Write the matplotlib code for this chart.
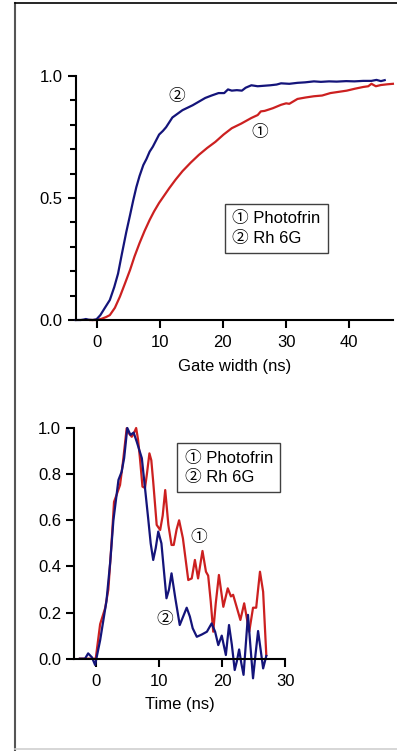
import matplotlib
matplotlib.use('Agg')
import matplotlib.pyplot as plt
from matplotlib.lines import Line2D
from matplotlib.ticker import MultipleLocator, FormatStrFormatter


plt.rcParams['font.family'] = ['Liberation Sans', 'Noto Sans CJK JP', 'DejaVu Sans']
plt.rcParams['font.size'] = 12

BLUE = '#14147a'
RED = '#cc2020'

# top panel: normalised integrated signal vs gate width
gate_rh6g = [-3.3, -2.5, -2.0, -1.7, -1.2, -0.6, 0, 0.6, 1.2, 2.1, 2.8, 3.4, 4.0, 4.7,
             5.3, 5.8, 6.3, 6.8, 7.4, 7.9, 8.4, 8.9, 9.4, 9.9, 10.5, 11.0, 11.5, 12.0,
             12.8, 13.6, 14.4, 15.2, 16.2, 17.2, 18.2, 19.3, 20.2, 20.8, 21.4, 22.2,
             23.0, 23.6, 24.5, 25.5, 26.5, 27.5, 28.5, 29.2, 30.5, 31.8, 33.0, 34.4,
             35.5, 36.8, 38.0, 39.5, 40.8, 42.2, 43.5, 44.3, 45.0, 45.6]
sig_rh6g = [0, 0, 0.002, 0.004, 0.001, 0, 0.003, 0.02, 0.045, 0.082, 0.135, 0.19, 0.27,
            0.36, 0.43, 0.49, 0.545, 0.59, 0.635, 0.66, 0.69, 0.71, 0.735, 0.76, 0.775,
            0.79, 0.81, 0.83, 0.845, 0.86, 0.87, 0.88, 0.895, 0.91, 0.92, 0.93, 0.93,
            0.945, 0.94, 0.942, 0.94, 0.952, 0.962, 0.958, 0.96, 0.962, 0.965, 0.97,
            0.968, 0.972, 0.974, 0.978, 0.976, 0.978, 0.977, 0.979, 0.978, 0.98, 0.98,
            0.984, 0.979, 0.983]

gate_photofrin = [-1.0, 0, 0.8, 1.5, 2.1, 2.9, 3.7, 4.5, 5.3, 6.0, 6.8, 7.6, 8.4, 9.1,
                  9.9, 10.7, 11.5, 12.5, 13.6, 14.9, 16.2, 17.5, 18.8, 20.1, 21.4, 22.9,
                  24.5, 25.5, 26.0, 26.6, 27.9, 29.2, 30.0, 30.5, 31.8, 33.1, 34.4, 35.7,
                  37.0, 38.3, 39.6, 40.9, 42.2, 43.0, 43.5, 44.2, 45.0, 46.0, 46.9]
sig_photofrin = [0, 0, 0.005, 0.012, 0.02, 0.05, 0.096, 0.15, 0.205, 0.26, 0.315, 0.365,
                 0.41, 0.445, 0.48, 0.51, 0.54, 0.575, 0.61, 0.645, 0.677, 0.705, 0.73,
                 0.76, 0.786, 0.805, 0.828, 0.84, 0.855, 0.857, 0.868, 0.882, 0.888,
                 0.886, 0.906, 0.912, 0.917, 0.92, 0.93, 0.935, 0.94, 0.948, 0.955, 0.958,
                 0.968, 0.958, 0.963, 0.966, 0.968]

# bottom panel: time-resolved fluorescence
time_photofrin = [-2.5, -1.0, 0.0, 0.7, 1.5, 2.0, 2.5, 2.9, 3.3, 3.85, 4.3, 4.9, 5.3,
                  5.7, 6.0, 6.4, 6.7, 7.0, 7.4, 7.8, 8.1, 8.5, 8.8, 9.1, 9.65, 10.2, 10.6,
                  11.0, 11.5, 12.0, 12.35, 12.8, 13.2, 13.8, 14.65, 15.2, 15.7, 16.2,
                  16.9, 17.45, 17.8, 18.2, 18.6, 19.0, 19.5, 20.2, 20.9, 21.4, 21.75,
                  22.3, 22.9, 23.5, 24.3, 24.9, 25.4, 25.7, 26.0, 26.5, 27.0]
fl_photofrin = [0, 0, 0.0, 0.15, 0.22, 0.3, 0.5, 0.68, 0.71, 0.753, 0.85, 0.999, 0.975,
                0.962, 0.975, 1.0, 0.95, 0.869, 0.746, 0.74, 0.80, 0.89, 0.86, 0.767,
                0.58, 0.558, 0.62, 0.731, 0.58, 0.493, 0.493, 0.56, 0.60, 0.522, 0.341,
                0.348, 0.428, 0.348, 0.467, 0.377, 0.36, 0.25, 0.117, 0.24, 0.363, 0.225,
                0.305, 0.27, 0.277, 0.225, 0.168, 0.24, 0.117, 0.221, 0.221, 0.30, 0.377,
                0.29, 0.016]

time_rh6g = [-2.5, -1.7, -1.2, -0.6, -0.1, 0.7, 1.7, 2.3, 2.8, 3.6, 4.1, 4.5, 5.0, 5.5,
             6.0, 6.5, 7.3, 7.8, 8.3, 8.7, 9.1, 9.5, 9.9, 10.4, 10.8, 11.2, 11.6, 12.0,
             12.6, 13.3, 13.8, 14.4, 14.9, 15.35, 16.0, 16.8, 17.6, 18.35, 18.9, 19.4,
             19.95, 20.6, 21.1, 21.55, 22.0, 22.35, 22.7, 23.05, 23.4, 23.75, 24.1, 24.5,
             24.9, 25.3, 25.7, 26.1, 26.5, 27.0]
fl_rh6g = [0, 0, 0.023, 0.006, -0.027, 0.08, 0.25, 0.42, 0.6, 0.775, 0.81, 0.87, 1.0,
           0.97, 0.98, 0.94, 0.869, 0.74, 0.609, 0.50, 0.428, 0.48, 0.551, 0.50, 0.38,
           0.262, 0.30, 0.37, 0.262, 0.146, 0.18, 0.221, 0.183, 0.132, 0.095, 0.105,
           0.117, 0.153, 0.117, 0.059, 0.1, 0.016, 0.146, 0.06, -0.049, -0.01, 0.04,
           -0.02, -0.07, 0.06, 0.19, 0.05, -0.085, 0.02, 0.12, 0.04, -0.042, 0.012]

LEGEND_TEXT = '\u2460 Photofrin\n\u2461 Rh 6G'


def style_axes(ax):
    for side in ['top', 'right']:
        ax.spines[side].set_visible(False)
    for side in ['left', 'bottom']:
        ax.spines[side].set_linewidth(1.5)
    ax.tick_params(which='major', direction='out', width=1.5, length=6, labelsize=12)
    ax.tick_params(which='minor', direction='out', width=1.5, length=4)
    ax.tick_params(axis='x', pad=5)
    ax.set_facecolor('none')


fig = plt.figure(figsize=(3.97, 7.51), dpi=100)

# top panel
ax1 = fig.add_axes([0.1907, 0.5739, 0.799, 0.3249])
ax1.plot(gate_photofrin, sig_photofrin, color=RED, lw=1.6, clip_on=False)
ax1.plot(gate_rh6g, sig_rh6g, color=BLUE, lw=1.6, clip_on=False)
ax1.set_xlim(-3.3, 46.9)
ax1.set_ylim(0, 1.0)
ax1.set_xticks([0, 10, 20, 30, 40])
ax1.yaxis.set_major_locator(MultipleLocator(0.5))
ax1.yaxis.set_minor_locator(MultipleLocator(0.1))
ax1.yaxis.set_major_formatter(FormatStrFormatter('%.1f'))
ax1.set_xlabel('Gate width (ns)', fontsize=12, labelpad=6)
style_axes(ax1)
ax1.text(12.74, 0.914, '\u2461', ha='center', va='center', fontsize=12)
ax1.text(25.8, 0.77, '\u2460', ha='center', va='center', fontsize=12)
ax1.text(21.5, 0.445, LEGEND_TEXT, ha='left', va='top', fontsize=12, linespacing=1.35,
         bbox=dict(boxstyle='square,pad=0.45', fc='white', ec='#404040', lw=1))

# bottom panel
ax2 = fig.add_axes([0.187, 0.1229, 0.5315, 0.3072])
ax2.plot(time_photofrin, fl_photofrin, color=RED, lw=1.6, clip_on=False)
ax2.plot(time_rh6g, fl_rh6g, color=BLUE, lw=1.6, clip_on=False)
ax2.set_xlim(-3.4, 30)
ax2.set_ylim(0, 1.0)
ax2.set_xticks([0, 10, 20, 30])
ax2.set_yticks([0, 0.2, 0.4, 0.6, 0.8, 1.0])
ax2.yaxis.set_major_formatter(FormatStrFormatter('%.1f'))
ax2.set_xlabel('Time (ns)', fontsize=12, labelpad=6)
style_axes(ax2)
ax2.text(16.35, 0.527, '\u2460', ha='center', va='center', fontsize=12)
ax2.text(10.96, 0.168, '\u2461', ha='center', va='center', fontsize=12)
ax2.text(14.08, 0.902, LEGEND_TEXT, ha='left', va='top', fontsize=12, linespacing=1.35,
         bbox=dict(boxstyle='square,pad=0.45', fc='white', ec='#404040', lw=1))

# outer frame
fig.add_artist(Line2D([0.039, 0.039], [0.0, 0.996], transform=fig.transFigure,
                      color='#555555', lw=1.5))
fig.add_artist(Line2D([0.038, 1.0], [0.996, 0.996], transform=fig.transFigure,
                      color='black', lw=1.2))
fig.add_artist(Line2D([0.038, 1.0], [0.002, 0.002], transform=fig.transFigure,
                      color='#d0d0d0', lw=1.2))

fig.savefig('out.png', dpi=100)
